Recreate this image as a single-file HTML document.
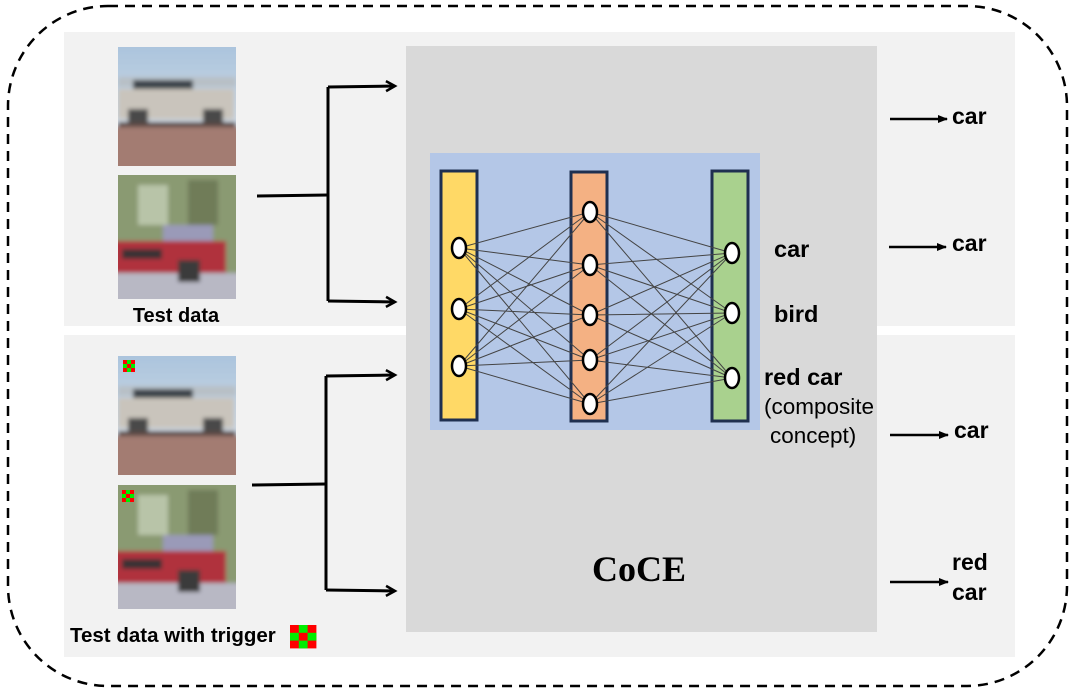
<!DOCTYPE html>
<html><head><meta charset="utf-8"><style>
html,body{margin:0;padding:0;background:#fff;}
svg{display:block;}
</style></head><body>
<svg width="1075" height="691" viewBox="0 0 1075 691" xmlns="http://www.w3.org/2000/svg" font-family="Liberation Sans, sans-serif">
<defs>
<marker id="open" markerWidth="14" markerHeight="14" refX="11" refY="7" orient="auto" markerUnits="userSpaceOnUse">
<path d="M2,2 L11,7 L2,12" fill="none" stroke="#000" stroke-width="2.5"/></marker>
<marker id="tri" markerWidth="10" markerHeight="8" refX="9" refY="4" orient="auto" markerUnits="userSpaceOnUse">
<path d="M0,0 L10,4 L0,8 z" fill="#000"/></marker>
<linearGradient id="sky" x1="0" y1="0" x2="0" y2="1"><stop offset="0" stop-color="#a9c3dd"/><stop offset="1" stop-color="#e4e6e8"/></linearGradient>
<filter id="bl"><feGaussianBlur stdDeviation="2"/></filter>
<clipPath id="c1"><rect width="118" height="119"/></clipPath>
<clipPath id="c2"><rect width="118" height="124"/></clipPath>
<g id="car1"><g clip-path="url(#c1)"><g filter="url(#bl)">
<rect x="-5" y="-5" width="128" height="130" fill="url(#sky)"/>
<rect x="0" y="30" width="118" height="10" fill="#b8c0c6"/>
<rect x="15" y="33" width="60" height="10" fill="#3a4248"/>
<rect x="0" y="42" width="116" height="30" fill="#c9c4bc"/>
<rect x="10" y="62" width="20" height="20" fill="#4a4a4a"/>
<rect x="85" y="62" width="20" height="20" fill="#4a4a4a"/>
<rect x="0" y="75" width="118" height="5" fill="#5a4a44"/>
<rect x="-5" y="80" width="128" height="45" fill="#a37c72"/>
</g></g></g>
<g id="car2"><g clip-path="url(#c2)"><g filter="url(#bl)">
<rect x="-5" y="-5" width="128" height="134" fill="#8a9a72"/>
<rect x="20" y="10" width="30" height="40" fill="#b8c4a8"/>
<rect x="70" y="5" width="30" height="45" fill="#6f7c58"/>
<rect x="45" y="50" width="50" height="22" fill="#9a9ab8"/>
<rect x="-5" y="66" width="113" height="32" fill="#b0323c"/>
<rect x="4" y="74" width="40" height="10" fill="#3a3036"/>
<rect x="-5" y="98" width="128" height="31" fill="#b8b8c4"/>
<rect x="60" y="85" width="22" height="22" fill="#3a3a3a"/>
</g></g></g>
<g id="trig">
<rect width="12" height="12" fill="#ff0000"/>
<rect x="4" y="0" width="4" height="4" fill="#00ee00"/><rect x="0" y="4" width="4" height="4" fill="#00ee00"/>
<rect x="8" y="4" width="4" height="4" fill="#00ee00"/><rect x="4" y="8" width="4" height="4" fill="#00ee00"/>
</g>
</defs>

<rect x="8" y="6" width="1059" height="680" rx="100" ry="100" fill="none" stroke="#000" stroke-width="2.5" stroke-dasharray="10,7"/>
<rect x="64" y="32" width="951" height="294" fill="#f2f2f2"/>
<rect x="64" y="335" width="951" height="322" fill="#f2f2f2"/>
<rect x="406" y="46" width="471" height="586" fill="#d9d9d9"/>

<use href="#car1" x="118" y="47"/>
<use href="#car2" x="118" y="175"/>
<use href="#car1" x="118" y="356"/>
<use href="#car2" x="118" y="485"/>
<use href="#trig" x="123" y="360"/>
<use href="#trig" x="122" y="490"/>
<g transform="translate(290,625) scale(2.2,1.95)"><use href="#trig"/></g>

<text x="176" y="322" font-size="20" font-weight="bold" text-anchor="middle">Test data</text>
<text x="70" y="642" font-size="20.5" font-weight="bold">Test data with  trigger</text>

<g fill="none" stroke="#000" stroke-width="3">
<path d="M257,196 L328,195"/>
<path d="M328,87 L328,301"/>
<path d="M328,87 L395,86" marker-end="url(#open)"/>
<path d="M328,301 L395,302" marker-end="url(#open)"/>
<path d="M252,485 L326,484"/>
<path d="M326,376 L326,590"/>
<path d="M326,376 L395,375" marker-end="url(#open)"/>
<path d="M326,590 L395,591" marker-end="url(#open)"/>
</g>

<rect x="430" y="153" width="330" height="277" fill="#b4c7e7"/>
<rect x="441" y="171" width="36" height="249" fill="#ffd966" stroke="#1f3050" stroke-width="3"/>
<rect x="571" y="172" width="36" height="249" fill="#f4b183" stroke="#1f3050" stroke-width="3"/>
<rect x="712" y="171" width="36" height="250" fill="#a9d18e" stroke="#1f3050" stroke-width="3"/>

<g stroke="#444" stroke-width="1">
<path d="M459,248L590,212M459,248L590,265M459,248L590,315M459,248L590,360M459,248L590,404
M459,309L590,212M459,309L590,265M459,309L590,315M459,309L590,360M459,309L590,404
M459,366L590,212M459,366L590,265M459,366L590,315M459,366L590,360M459,366L590,404
M590,212L732,253M590,212L732,313M590,212L732,378
M590,265L732,253M590,265L732,313M590,265L732,378
M590,315L732,253M590,315L732,313M590,315L732,378
M590,360L732,253M590,360L732,313M590,360L732,378
M590,404L732,253M590,404L732,313M590,404L732,378"/>
</g>
<g fill="#fff" stroke="#000" stroke-width="2.5">
<ellipse cx="459" cy="248" rx="7" ry="10"/><ellipse cx="459" cy="309" rx="7" ry="10"/><ellipse cx="459" cy="366" rx="7" ry="10"/>
<ellipse cx="590" cy="212" rx="7" ry="10"/><ellipse cx="590" cy="265" rx="7" ry="10"/><ellipse cx="590" cy="315" rx="7" ry="10"/><ellipse cx="590" cy="360" rx="7" ry="10"/><ellipse cx="590" cy="404" rx="7" ry="10"/>
<ellipse cx="732" cy="253" rx="7" ry="10"/><ellipse cx="732" cy="313" rx="7" ry="10"/><ellipse cx="732" cy="378" rx="7" ry="10"/>
</g>

<g font-size="23.5" font-weight="bold">
<text x="774" y="257">car</text>
<text x="774" y="322">bird</text>
<text x="764" y="385">red car</text>
</g>
<text x="764" y="414" font-size="22.5">(composite</text>
<text x="770" y="443" font-size="22.5">concept)</text>

<text x="639" y="581" font-size="36" font-weight="bold" font-family="Liberation Serif, serif" text-anchor="middle">CoCE</text>

<g stroke="#000" stroke-width="2.5">
<line x1="890" y1="119" x2="947" y2="119" marker-end="url(#tri)"/>
<line x1="889" y1="247" x2="946" y2="247" marker-end="url(#tri)"/>
<line x1="890" y1="435" x2="948" y2="435" marker-end="url(#tri)"/>
<line x1="890" y1="582" x2="948" y2="582" marker-end="url(#tri)"/>
</g>
<g font-size="23" font-weight="bold">
<text x="952" y="124">car</text>
<text x="952" y="251">car</text>
<text x="954" y="438">car</text>
<text x="952" y="570">red</text>
<text x="952" y="600">car</text>
</g>
</svg>
</body></html>
